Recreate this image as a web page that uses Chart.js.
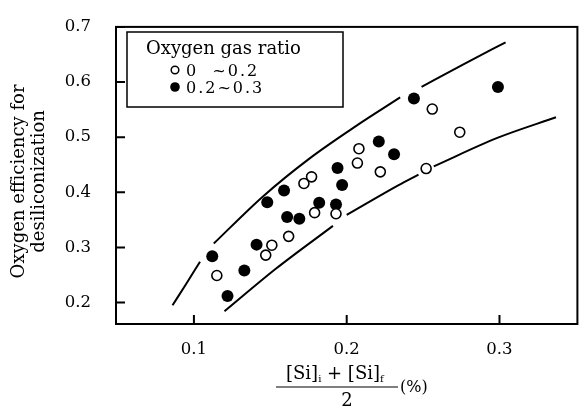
<!DOCTYPE html>
<html>
<head>
<meta charset="utf-8">
<script src="https://cdn.jsdelivr.net/npm/chart.js@4/dist/chart.umd.min.js"></script>
<style>
  html, body { margin: 0; padding: 0; background: #fff; }
  #wrap { width: 584px; height: 408px; }
</style>
</head>
<body>
<div id="wrap"><canvas id="chart" width="584" height="408"></canvas></div>
<script>
// 산점도 데이터
const openX = [0.115, 0.147, 0.151, 0.162, 0.172, 0.177, 0.179, 0.193, 0.207, 0.208, 0.222, 0.252, 0.256, 0.274];
const openY = [0.249, 0.286, 0.304, 0.320, 0.416, 0.428, 0.363, 0.361, 0.453, 0.479, 0.437, 0.443, 0.551, 0.509];
const filledX = [0.112, 0.122, 0.133, 0.141, 0.148, 0.159, 0.161, 0.169, 0.182, 0.193, 0.194, 0.197, 0.221, 0.231, 0.244, 0.299];
const filledY = [0.284, 0.212, 0.258, 0.305, 0.382, 0.403, 0.355, 0.352, 0.381, 0.378, 0.444, 0.413, 0.492, 0.469, 0.570, 0.591];

// 상한/하한 곡선 (끊어진 구간별)
const upperCurve = [
    [[0.086, 0.195], [0.095, 0.234], [0.104, 0.274]],
    [[0.113, 0.307], [0.145, 0.392], [0.176, 0.462], [0.206, 0.520], [0.235, 0.572]],
    [[0.249, 0.591], [0.277, 0.633], [0.304, 0.672]]
];
const lowerCurve = [
    [[0.120, 0.184], [0.154, 0.262], [0.191, 0.339]],
    [[0.200, 0.359], [0.234, 0.413], [0.247, 0.432]],
    [[0.257, 0.447], [0.299, 0.499], [0.337, 0.536]]
];

const xTicks = [0.1, 0.2, 0.3];
const yTicks = [0.2, 0.3, 0.4, 0.5, 0.6, 0.7];
const legendTitle = 'Oxygen gas ratio';
const seriesLabels = ['0  ~0.2', '0.2~0.3'];
const yTitleLines = ['Oxygen efficiency for', 'desiliconization'];

const SERIF = '"DejaVu Serif", "Liberation Serif", serif';

const toPoints = (xs, ys) => xs.map((x, i) => ({ x: x, y: ys[i] }));

const curveSets = [...upperCurve, ...lowerCurve].map(seg => ({
    data: seg.map(p => ({ x: p[0], y: p[1] })),
    showLine: true,
    borderColor: '#000',
    borderWidth: 2,
    pointRadius: 0,
    cubicInterpolationMode: 'monotone',
    fill: false
}));

// 테두리, 안쪽 눈금, 범례, 축 제목 그리기
const decorPlugin = {
    id: 'decor',
    afterDraw(chart) {
        const ctx = chart.ctx;
        const a = chart.chartArea;
        const xs = chart.scales.x, ys = chart.scales.y;
        ctx.save();
        ctx.strokeStyle = '#000';
        ctx.fillStyle = '#000';

        // 프레임
        ctx.lineWidth = 2;
        ctx.strokeRect(a.left, a.top, a.right - a.left, a.bottom - a.top);

        // 안쪽 눈금
        ctx.beginPath();
        yTicks.forEach(v => {
            const py = ys.getPixelForValue(v);
            ctx.moveTo(a.left, py); ctx.lineTo(a.left + 9, py);
        });
        xTicks.forEach(v => {
            const px = xs.getPixelForValue(v);
            ctx.moveTo(px, a.bottom); ctx.lineTo(px, a.bottom - 9);
        });
        ctx.stroke();

        // 범례 박스
        ctx.lineWidth = 1.5;
        ctx.fillStyle = '#fff';
        ctx.fillRect(127, 32, 216, 75);
        ctx.strokeRect(127, 32, 216, 75);
        ctx.fillStyle = '#000';
        ctx.textBaseline = 'alphabetic';
        ctx.textAlign = 'left';
        ctx.font = '18px ' + SERIF;
        ctx.fillText(legendTitle, 146, 54);

        ctx.lineWidth = 1.5;
        ctx.beginPath(); ctx.arc(175, 70, 3.8, 0, Math.PI * 2); ctx.stroke();
        ctx.beginPath(); ctx.arc(175, 87, 4.8, 0, Math.PI * 2); ctx.fill();
        ctx.font = '16px ' + SERIF;
        ctx.letterSpacing = '2px';
        ctx.fillText(seriesLabels[0], 186, 76);
        ctx.fillText(seriesLabels[1], 186, 93);
        ctx.letterSpacing = '0px';

        // Y축 제목 (두 줄, 회전)
        ctx.save();
        ctx.translate(0, (a.top + a.bottom) / 2 + 6);
        ctx.rotate(-Math.PI / 2);
        ctx.textAlign = 'center';
        ctx.font = '18px ' + SERIF;
        ctx.fillText(yTitleLines[0], 0, 24);
        ctx.fillText(yTitleLines[1], 0, 44);
        ctx.restore();

        // X축 제목 (분수 형태)
        let cx = 286;
        const base = 379;
        const part = (txt, size, dy) => {
            ctx.font = size + 'px ' + SERIF;
            ctx.fillText(txt, cx, base + dy);
            cx += ctx.measureText(txt).width;
        };
        part('[Si]', 18, 0);
        part('i', 10, 3);
        part(' + ', 18, 0);
        part('[Si]', 18, 0);
        part('f', 10, 3);
        ctx.lineWidth = 1.2;
        ctx.beginPath(); ctx.moveTo(276, 387); ctx.lineTo(398, 387); ctx.stroke();
        ctx.font = '18px ' + SERIF;
        ctx.textAlign = 'center';
        ctx.fillText('2', 347, 406);
        ctx.textAlign = 'left';
        ctx.font = '16px ' + SERIF;
        ctx.fillText('(%)', 400, 392);

        ctx.restore();
    }
};

new Chart(document.getElementById('chart'), {
    type: 'scatter',
    data: {
        datasets: [
            {
                data: toPoints(openX, openY),
                pointRadius: 5,
                pointBackgroundColor: '#fff',
                pointBorderColor: '#000',
                pointBorderWidth: 1.6
            },
            {
                data: toPoints(filledX, filledY),
                pointRadius: 6,
                pointBackgroundColor: '#000',
                pointBorderColor: '#000',
                pointBorderWidth: 0
            },
            ...curveSets
        ]
    },
    options: {
        responsive: false,
        animation: false,
        devicePixelRatio: 1,
        layout: { padding: { top: 18, right: 4, left: 0, bottom: 0 } },
        plugins: { legend: { display: false }, tooltip: { enabled: false } },
        scales: {
            x: {
                type: 'linear',
                min: 0.049,
                max: 0.351,
                grid: { display: false },
                border: { display: false },
                afterBuildTicks: s => { s.ticks = xTicks.map(v => ({ value: v })); },
                afterFit: s => { s.height = 84; },
                ticks: {
                    padding: 8,
                    color: '#000',
                    font: { family: SERIF, size: 16.5 },
                    callback: v => v.toFixed(1)
                }
            },
            y: {
                type: 'linear',
                min: 0.161,
                max: 0.7,
                grid: { display: false },
                border: { display: false },
                afterBuildTicks: s => { s.ticks = yTicks.map(v => ({ value: v })); },
                afterFit: s => { s.width = 116; },
                ticks: {
                    padding: 17,
                    color: '#000',
                    font: { family: SERIF, size: 16.5 },
                    callback: v => v.toFixed(1)
                }
            }
        }
    },
    plugins: [decorPlugin]
});
</script>
</body>
</html>
